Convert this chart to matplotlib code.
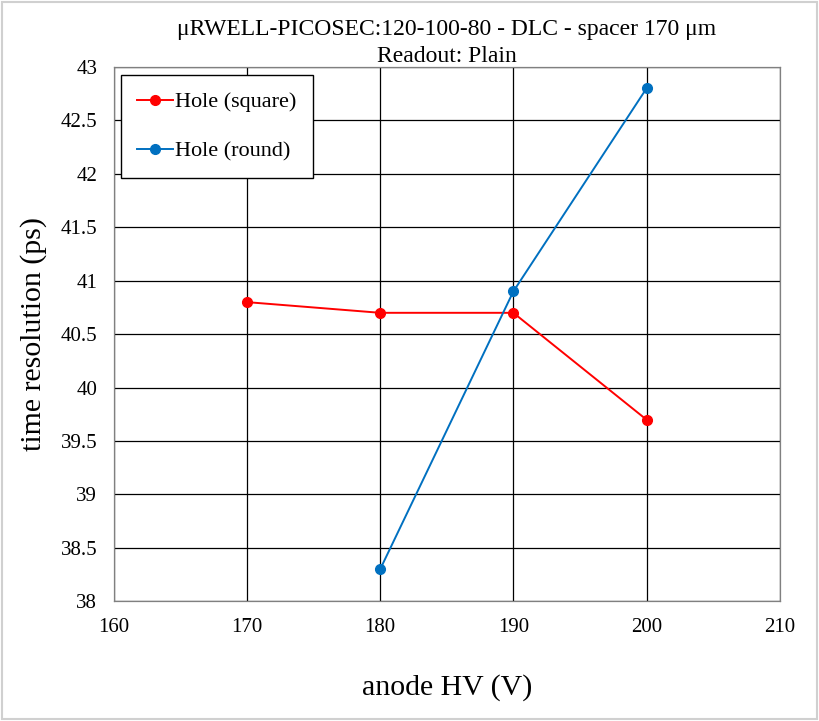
import matplotlib.pyplot as plt
from matplotlib.patches import Rectangle

plt.rcParams['font.family'] = ['Liberation Serif', 'DejaVu Serif']

# data
hv_square = [170, 180, 190, 200]
res_square = [40.8, 40.7, 40.7, 39.7]
hv_round = [180, 190, 200]
res_round = [38.3, 40.9, 42.8]

xticks = [160, 170, 180, 190, 200, 210]
yticks = [38, 38.5, 39, 39.5, 40, 40.5, 41, 41.5, 42, 42.5, 43]
ytick_labels = ['38', '38.5', '39', '39.5', '40', '40.5', '41', '41.5', '42', '42.5', '43']

fig = plt.figure(figsize=(8.19, 7.21), dpi=100)
# light frame round the whole chart
fig.patches.append(Rectangle((0.003, 0.003), 0.994, 0.994, transform=fig.transFigure,
                             fill=False, edgecolor='#d0d0d0', linewidth=1.5))

ax = fig.add_axes([0.139, 0.166, 0.813, 0.741])
ax.plot(hv_square, res_square, color='#ff0000', marker='o', markersize=7,
        linewidth=1.4, label='Hole (square)', zorder=3)
ax.plot(hv_round, res_round, color='#0070c0', marker='o', markersize=7,
        linewidth=1.4, label='Hole (round)', zorder=3)

ax.set_xlim(160, 210)
ax.set_ylim(38, 43)
ax.set_xticks(xticks)
ax.set_yticks(yticks)
ax.set_yticklabels(ytick_labels)
ax.tick_params(length=0, labelsize=15, pad=12)
ax.grid(True, color='black', linewidth=0.9)
for s in ax.spines.values():
    s.set_color('#808080')
    s.set_linewidth(0.9)

ax.set_xlabel('anode HV (V)', fontsize=21.5, labelpad=27)
ax.set_ylabel('time resolution (ps)', fontsize=21.5, labelpad=10)
ax.set_title('μRWELL-PICOSEC:120-100-80 - DLC - spacer 170 μm\nReadout: Plain',
             fontsize=17, linespacing=1.4, pad=3)

leg = ax.legend(loc='upper left', bbox_to_anchor=(0.0105, 0.985), fontsize=16,
                frameon=True, fancybox=False, edgecolor='black', framealpha=1,
                handlelength=1.6, handletextpad=0.1, labelspacing=1.3,
                borderpad=0.75, borderaxespad=0)
leg.get_frame().set_linewidth(1.0)

fig.savefig('out.png', dpi=100)
